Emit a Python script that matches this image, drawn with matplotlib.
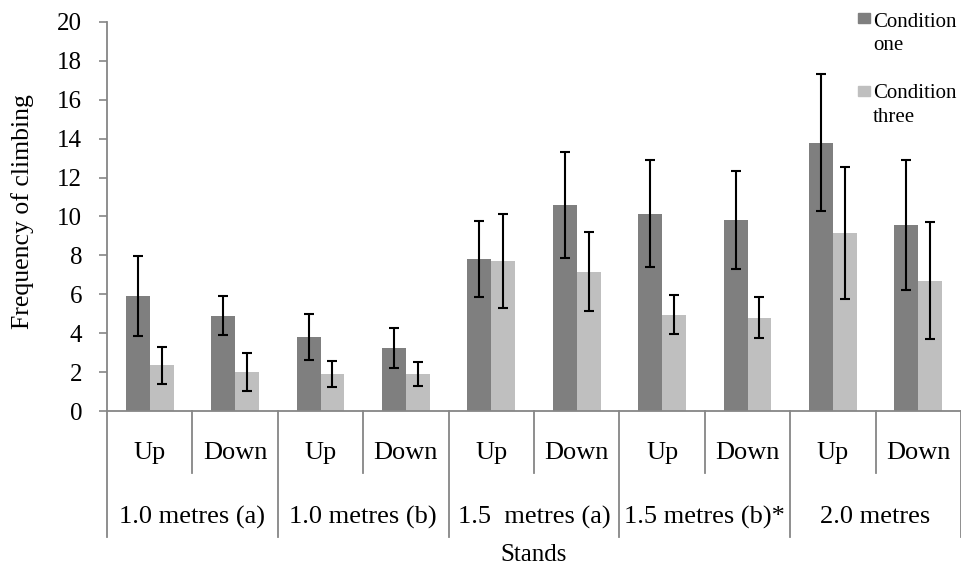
import matplotlib
matplotlib.use("Agg")
import matplotlib.pyplot as plt
from matplotlib.patches import Rectangle
import numpy as np

plt.rcParams['font.family'] = ['Liberation Serif', 'DejaVu Serif']

stands = ['1.0 metres (a)', '1.0 metres (b)', '1.5  metres (a)', '1.5 metres (b)*', '2.0 metres']
directions = ['Up', 'Down']
cond_one = [5.9, 4.9, 3.8, 3.25, 7.8, 10.6, 10.15, 9.8, 13.8, 9.55]
cond_one_err = [2.05, 1.0, 1.17, 1.03, 1.95, 2.72, 2.75, 2.52, 3.53, 3.35]
cond_three = [2.35, 2.0, 1.9, 1.9, 7.7, 7.15, 4.95, 4.8, 9.15, 6.7]
cond_three_err = [0.96, 0.96, 0.67, 0.62, 2.43, 2.03, 1.0, 1.04, 3.4, 3.0]
y_ticks = list(range(0, 21, 2))

DARK = '#7f7f7f'
LIGHT = '#bfbfbf'
AXIS = '#868686'
W, H = 961, 568

fig = plt.figure(figsize=(W / 100, H / 100), dpi=100)
ax = fig.add_axes([107 / W, 157 / H, 854 / W, 389 / H])

x = np.arange(len(cond_one))
bw = 0.281
ax.bar(x - bw, cond_one, bw, align='edge', color=DARK)
ax.bar(x, cond_three, bw, align='edge', color=LIGHT)
ekw = dict(fmt='none', ecolor='black', elinewidth=1.5, capsize=3.8, capthick=1.5)
ax.errorbar(x - bw / 2, cond_one, yerr=cond_one_err, **ekw)
ax.errorbar(x + bw / 2, cond_three, yerr=cond_three_err, **ekw)

ax.set_xlim(-0.5, len(x) - 0.5)
ax.set_ylim(0, 20)
ax.set_yticks(y_ticks)
ax.tick_params(axis='y', direction='out', length=5.8, width=1.2, color=AXIS,
               labelsize=18, pad=12)
ax.set_xticks([])
for s in ['top', 'right']:
    ax.spines[s].set_visible(False)
for s in ['left', 'bottom']:
    ax.spines[s].set_color(AXIS)
    ax.spines[s].set_linewidth(1.3)

# two-level category axis below the plot
tr = ax.get_xaxis_transform()
for k in range(len(x) + 1):
    low = -0.324 if k % 2 == 0 else -0.159
    ax.plot([k - 0.5, k - 0.5], [0, low], color=AXIS, lw=1.3,
            transform=tr, clip_on=False)
for i in x:
    ax.text(i, -0.108, directions[i % 2], transform=tr, ha='center',
            va='center', fontsize=19)
for g, name in enumerate(stands):
    ax.text(2 * g + 0.5, -0.2725, name, transform=tr, ha='center',
            va='center', fontsize=19)
ax.text(4.5, -0.37, 'Stands', transform=tr, ha='center', va='center', fontsize=18)

fig.text(23 / W, 1 - 212 / H, 'Frequency of climbing', rotation=90,
         ha='center', va='center', fontsize=18.5)

# legend
for color, top, lines in [(DARK, 13, [('Condition', 27), ('one', 50)]),
                          (LIGHT, 86, [('Condition', 98), ('three', 122)])]:
    fig.add_artist(Rectangle((858 / W, 1 - (top + 10) / H), 12 / W, 10 / H,
                             transform=fig.transFigure, color=color))
    for txt, base in lines:
        fig.text(873 / W, 1 - base / H, txt, ha='left', va='baseline', fontsize=15)

fig.savefig('out.png', dpi=100)
